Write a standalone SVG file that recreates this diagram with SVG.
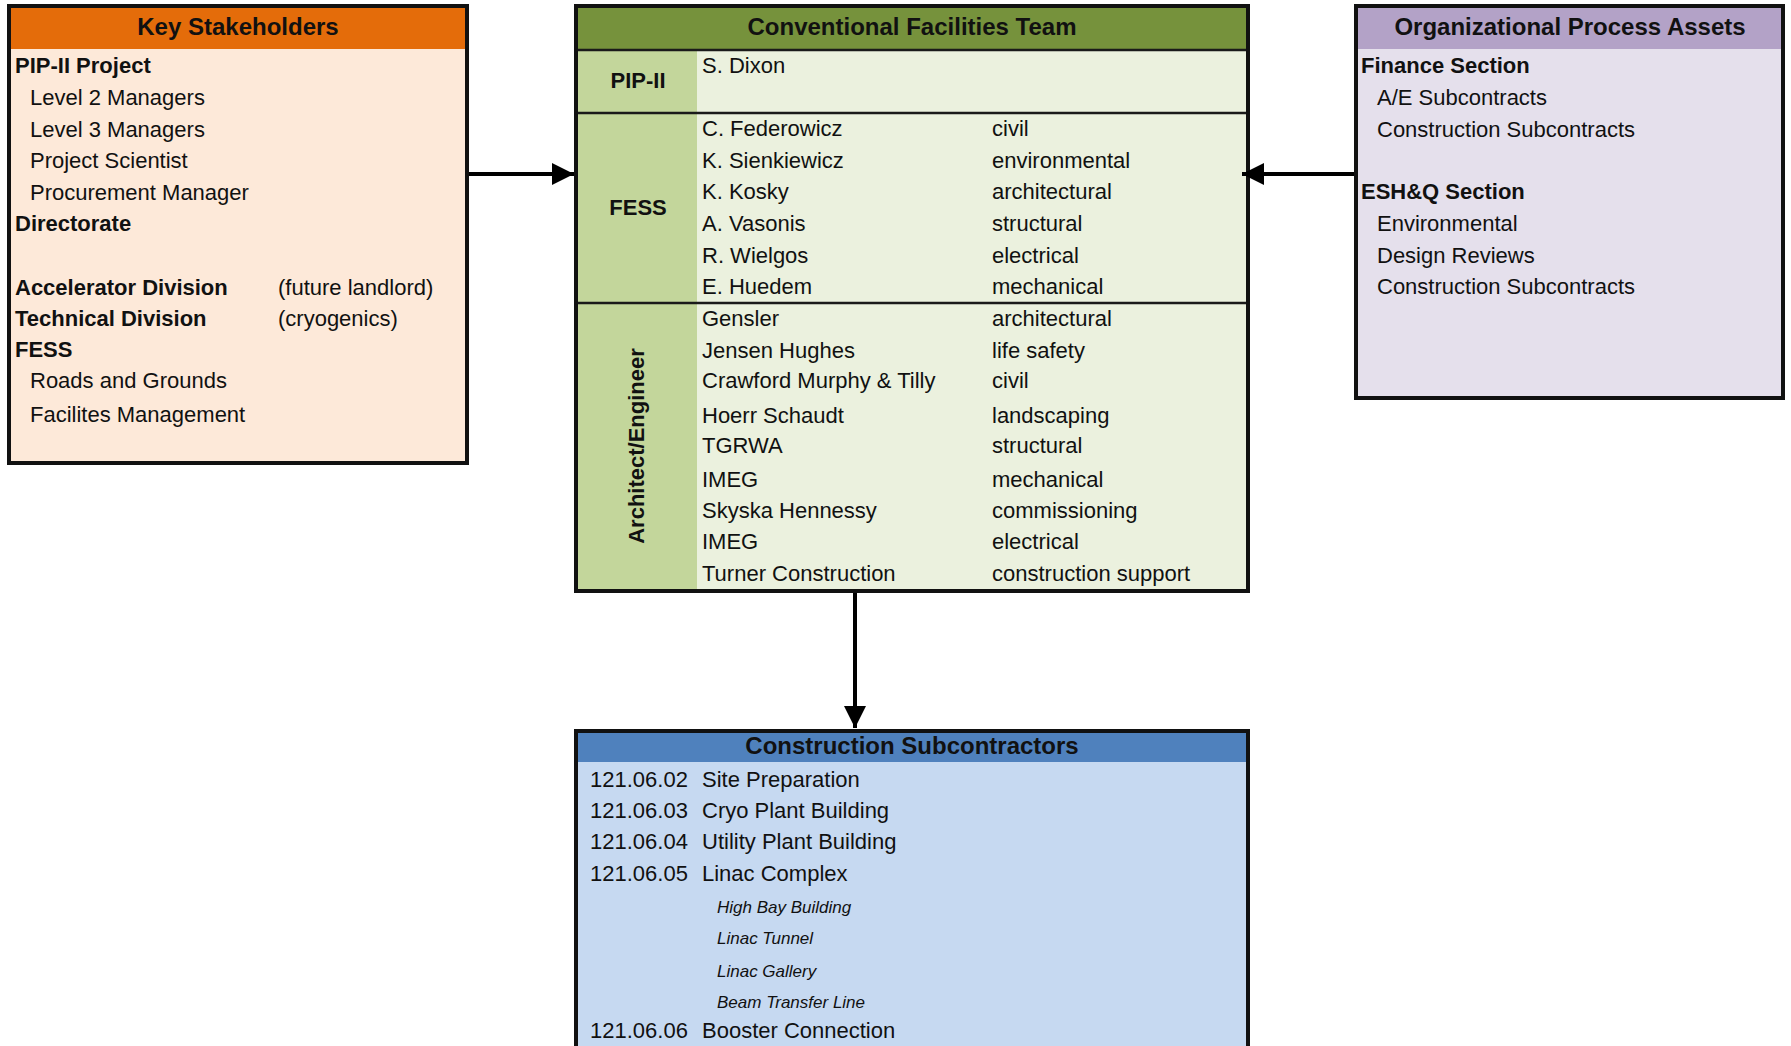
<svg xmlns="http://www.w3.org/2000/svg" width="1791" height="1046" viewBox="0 0 1791 1046">
<style>
text{font-family:"Liberation Sans",Arial,sans-serif;font-size:22px;fill:#111}
.t{font-size:24px;font-weight:bold;text-anchor:middle}
.b{font-weight:bold}
.c{font-weight:bold;text-anchor:middle}
.i{font-style:italic;font-size:17px}
.box{fill:none;stroke:#111;stroke-width:4}
.div{stroke:#1a1a1a;stroke-width:2.5}
.conn{stroke:#000;stroke-width:4;fill:none}
</style>
<defs>
<marker id="ah" markerUnits="userSpaceOnUse" markerWidth="24" markerHeight="24" refX="22" refY="11" orient="auto" viewBox="0 0 24 24">
<path d="M0,0 L22,11 L0,22 Z" fill="#000"/>
</marker>
</defs>
<rect width="1791" height="1046" fill="#fff"/>

<g id="key-stakeholders">
<rect x="9" y="6" width="458" height="457" fill="#FDE9D9"/>
<rect x="9" y="6" width="458" height="43" fill="#E46C0A"/>
<rect class="box" x="9" y="6" width="458" height="457"/>
<text class="t" x="238" y="35">Key Stakeholders</text>
<text class="b" x="15" y="73">PIP-II Project</text>
<text x="30" y="105">Level 2 Managers</text>
<text x="30" y="137">Level 3 Managers</text>
<text x="30" y="168">Project Scientist</text>
<text x="30" y="200">Procurement Manager</text>
<text class="b" x="15" y="231">Directorate</text>
<text class="b" x="15" y="295">Accelerator Division</text>
<text x="278" y="295">(future landlord)</text>
<text class="b" x="15" y="326">Technical Division</text>
<text x="278" y="326">(cryogenics)</text>
<text class="b" x="15" y="357">FESS</text>
<text x="30" y="388">Roads and Grounds</text>
<text x="30" y="422">Facilites Management</text>
</g>

<g id="conventional-facilities-team">
<rect x="576" y="6" width="672" height="585" fill="#EBF1DE"/>
<rect x="576" y="6" width="672" height="44" fill="#76923C"/>
<rect x="576" y="50" width="121" height="541" fill="#C3D69B"/>
<line class="div" x1="576" y1="50" x2="1248" y2="50"/>
<line class="div" x1="576" y1="113" x2="1248" y2="113"/>
<line class="div" x1="576" y1="303" x2="1248" y2="303"/>
<rect class="box" x="576" y="6" width="672" height="585"/>
<text class="t" x="912" y="35">Conventional Facilities Team</text>
<text class="c" x="638" y="88">PIP-II</text>
<text class="c" x="638" y="215">FESS</text>
<text class="c" transform="translate(644,446) rotate(-90)">Architect/Engineer</text>
<text x="702" y="73">S. Dixon</text>
<text x="702" y="136">C. Federowicz</text><text x="992" y="136">civil</text>
<text x="702" y="168">K. Sienkiewicz</text><text x="992" y="168">environmental</text>
<text x="702" y="199">K. Kosky</text><text x="992" y="199">architectural</text>
<text x="702" y="231">A. Vasonis</text><text x="992" y="231">structural</text>
<text x="702" y="263">R. Wielgos</text><text x="992" y="263">electrical</text>
<text x="702" y="294">E. Huedem</text><text x="992" y="294">mechanical</text>
<text x="702" y="326">Gensler</text><text x="992" y="326">architectural</text>
<text x="702" y="358">Jensen Hughes</text><text x="992" y="358">life safety</text>
<text x="702" y="388">Crawford Murphy &amp; Tilly</text><text x="992" y="388">civil</text>
<text x="702" y="423">Hoerr Schaudt</text><text x="992" y="423">landscaping</text>
<text x="702" y="453">TGRWA</text><text x="992" y="453">structural</text>
<text x="702" y="487">IMEG</text><text x="992" y="487">mechanical</text>
<text x="702" y="518">Skyska Hennessy</text><text x="992" y="518">commissioning</text>
<text x="702" y="549">IMEG</text><text x="992" y="549">electrical</text>
<text x="702" y="581">Turner Construction</text><text x="992" y="581">construction support</text>
</g>

<g id="organizational-process-assets">
<rect x="1356" y="6" width="427" height="392" fill="#E5E0EC"/>
<rect x="1356" y="6" width="427" height="43" fill="#B3A2C7"/>
<rect class="box" x="1356" y="6" width="427" height="392"/>
<text class="t" x="1570" y="35">Organizational Process Assets</text>
<text class="b" x="1361" y="73">Finance Section</text>
<text x="1377" y="105">A/E Subcontracts</text>
<text x="1377" y="137">Construction Subcontracts</text>
<text class="b" x="1361" y="199">ESH&amp;Q Section</text>
<text x="1377" y="231">Environmental</text>
<text x="1377" y="263">Design Reviews</text>
<text x="1377" y="294">Construction Subcontracts</text>
</g>

<g id="construction-subcontractors">
<rect x="576" y="731" width="672" height="330" fill="#C6D9F1"/>
<rect x="576" y="731" width="672" height="31" fill="#4F81BD"/>
<rect class="box" x="576" y="731" width="672" height="330"/>
<text class="t" x="912" y="754">Construction Subcontractors</text>
<text x="590" y="787">121.06.02</text><text x="702" y="787">Site Preparation</text>
<text x="590" y="818">121.06.03</text><text x="702" y="818">Cryo Plant Building</text>
<text x="590" y="849">121.06.04</text><text x="702" y="849">Utility Plant Building</text>
<text x="590" y="881">121.06.05</text><text x="702" y="881">Linac Complex</text>
<text class="i" x="717" y="913">High Bay Building</text>
<text class="i" x="717" y="944">Linac Tunnel</text>
<text class="i" x="717" y="977">Linac Gallery</text>
<text class="i" x="717" y="1008">Beam Transfer Line</text>
<text x="590" y="1038">121.06.06</text><text x="702" y="1038">Booster Connection</text>
</g>

<g id="connectors">
<line class="conn" x1="469" y1="174" x2="574" y2="174" marker-end="url(#ah)"/>
<line class="conn" x1="1354" y1="174" x2="1242" y2="174" marker-end="url(#ah)"/>
<line class="conn" x1="855" y1="593" x2="855" y2="728" marker-end="url(#ah)"/>
</g>
</svg>
